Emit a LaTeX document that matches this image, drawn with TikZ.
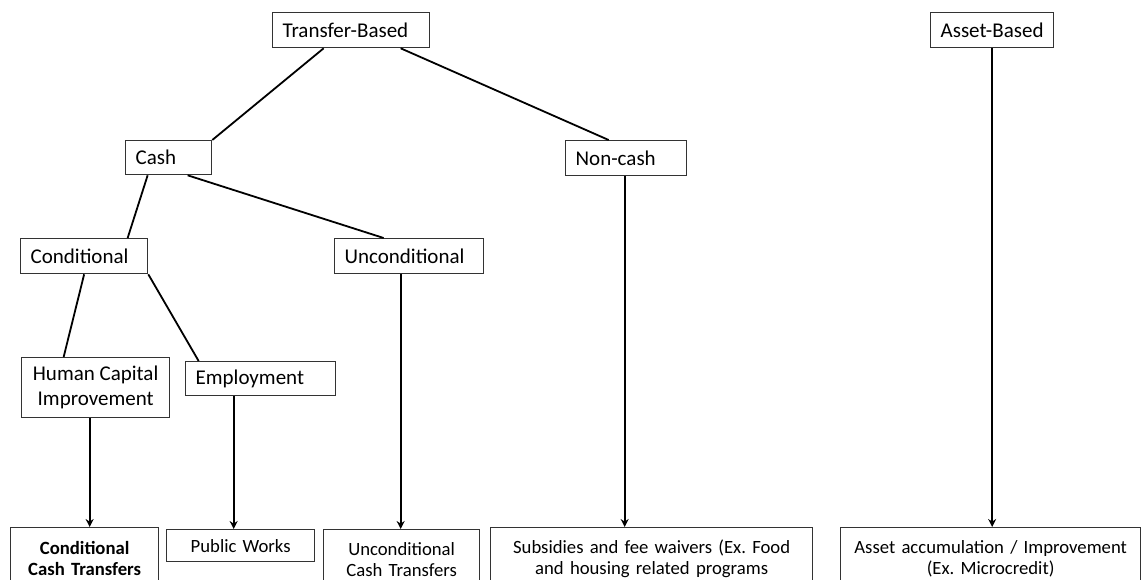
\documentclass[tikz,border=0pt]{standalone}
\usepackage{fontspec}
\setmainfont{Carlito}
\usepackage{tikz}
\usetikzlibrary{positioning, arrows.meta}
\frenchspacing

\begin{document}
\begin{tikzpicture}[
    x=1pt, y=-1pt,
    >=stealth,
    box/.style={draw=black!80, line width=1.3pt, rectangle, anchor=north west,
        inner xsep=10pt, inner ysep=0pt, align=left,
        font=\fontsize{21}{25}\selectfont},
    leaf/.style={box, inner xsep=4pt, align=center,
        font=\fontsize{18.7}{21.5}\selectfont},
    link/.style={line width=1.8pt},
    arr/.style={link, -{Stealth[length=8pt, width=8pt]}}
]

\useasboundingbox (0,0) rectangle (1141,580);

% Top level
\node[box, minimum width=157pt, text width=137pt, minimum height=35pt] (tb) at (272,12) {Transfer-Based};
\node[box, minimum width=123pt, text width=103pt, minimum height=35pt] (ab) at (930,12) {Asset-Based};

% Second level
\node[box, minimum width=86pt, text width=66pt, minimum height=34pt] (cash) at (125,140) {Cash};
\node[box, minimum width=121pt, text width=101pt, minimum height=35pt] (noncash) at (565,140) {Non-cash};

% Third level
\node[box, minimum width=127pt, text width=107pt, minimum height=35pt] (cond) at (20,238) {Conditional};
\node[box, minimum width=149pt, text width=129pt, minimum height=35pt] (uncond) at (334,238) {Unconditional};

% Fourth level
\node[box, align=center, minimum width=148pt, minimum height=60pt] (hci) at (21,357) {Human Capital\\Improvement};
\node[box, minimum width=150pt, text width=130pt, minimum height=34pt] (emp) at (185,361) {Employment};

% Programme types (bottom row)
\node[leaf, font=\fontsize{18.7}{21.5}\selectfont\bfseries, minimum width=148pt, text width=140pt, minimum height=62pt] (cct) at (10,527) {Conditional\\Cash Transfers};
\node[leaf, minimum width=148pt, text width=140pt, minimum height=32pt] (pw) at (166,529) {Public Works};
\node[leaf, minimum width=156pt, text width=148pt, minimum height=60pt] (uct) at (323,529) {Unconditional\\Cash Transfers};
\node[leaf, minimum width=322pt, text width=314pt, minimum height=62pt] (subs) at (490,527) {Subsidies and fee waivers (Ex. Food\\and housing related programs};
\node[leaf, minimum width=300pt, text width=292pt, minimum height=62pt] (asset) at (840,527) {Asset accumulation / Improvement\\(Ex. Microcredit)};

% Tree branches
\draw[link] ([xshift=-27.5pt]tb.south) -- (cash.north east);
\draw[link] ([xshift=49.5pt]tb.south) -- ([xshift=-17.5pt]noncash.north);
\draw[link] ([xshift=-21pt]cash.south) -- ([xshift=43.5pt]cond.north);
\draw[link] ([xshift=19pt]cash.south) -- ([xshift=-25.5pt]uncond.north);
\draw[link] (cond.south) -- ([xshift=-32pt]hci.north);
\draw[link] (cond.south east) -- ([xshift=-62pt]emp.north);

% Arrows down to the programme types
\draw[arr] ([xshift=-6pt]hci.south) -- ([xshift=-6pt]hci.south |- cct.north);
\draw[arr] ([xshift=-27pt]emp.south) -- ([xshift=-27pt]emp.south |- pw.north);
\draw[arr] ([xshift=-8.5pt]uncond.south) -- ([xshift=-8.5pt]uncond.south |- uct.north);
\draw[arr] ([xshift=-1.5pt]noncash.south) -- ([xshift=-1.5pt]noncash.south |- subs.north);
\draw[arr] (ab.south) -- (ab.south |- asset.north);

\end{tikzpicture}
\end{document}
